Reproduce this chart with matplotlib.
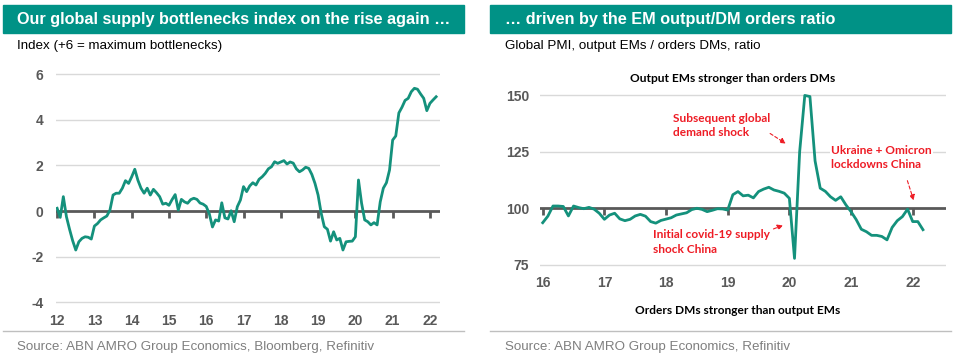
import numpy as np
import matplotlib
matplotlib.use("Agg")
import matplotlib.pyplot as plt
from matplotlib.patches import Rectangle
from matplotlib.lines import Line2D

# left chart: supply bottlenecks index, monthly Jan 2012 - Mar 2022
bottleneck_index = [
    0.12, -0.28, 0.63, -0.25, -0.80, -1.30, -1.71, -1.35, -1.20, -1.13, -1.15, -1.23,
    -0.66, -0.55, -0.39, -0.30, -0.22, 0.04, 0.70, 0.78, 0.78, 1.00, 1.33, 1.21,
    1.50, 1.83, 1.35, 1.00, 0.78, 1.00, 0.70, 0.95, 0.80, 0.63, 0.30, 0.34,
    0.25, 0.50, 0.72, 0.04, 0.51, 0.40, 0.34, 0.50, 0.56, 0.51, 0.35, 0.30,
    0.20, -0.13, -0.70, -0.39, -0.44, 0.36, -0.30, -0.35, 0.01, -0.47, 0.19, 0.48,
    1.07, 0.85, 1.10, 1.24, 1.14, 1.39, 1.50, 1.65, 1.85, 1.94, 2.16, 2.09,
    2.15, 2.21, 2.06, 2.15, 2.10, 1.85, 1.72, 1.80, 1.92, 1.87, 1.60, 1.21,
    0.70, -0.10, -0.69, -0.80, -1.32, -0.91, -1.27, -1.20, -1.71, -1.35, -1.33, -1.32,
    -1.13, 1.36, 0.34, -0.39, -0.47, -0.61, -0.51, -0.61, 0.40, 1.00, 1.24, 1.80,
    3.11, 3.29, 4.30, 4.55, 4.85, 4.94, 5.23, 5.38, 5.34, 5.13, 4.94, 4.40,
    4.72, 4.87, 5.01,
]
left_years = [12, 13, 14, 15, 16, 17, 18, 19, 20, 21, 22]

# right chart: EM output / DM orders ratio, monthly Jan 2016 - Mar 2022
pmi_ratio = [
    93.6, 96.5, 101.0, 101.0, 100.8, 96.6, 101.0, 100.3, 99.8, 100.4, 99.6, 97.8,
    95.1, 97.0, 97.8, 95.3, 94.5, 95.1, 96.6, 97.3, 96.5, 94.1, 93.4, 94.6,
    95.2, 95.8, 97.0, 97.5, 98.0, 99.4, 100.0, 99.5, 98.5, 99.1, 99.8, 99.7,
    99.2, 106.0, 107.4, 105.5, 105.8, 104.6, 107.4, 108.5, 109.3, 108.1, 107.5, 106.7,
    104.4, 77.8, 125.0, 150.0, 149.5, 121.0, 108.9, 107.5, 105.1, 103.5, 105.1, 101.5,
    98.5, 95.0, 90.7, 89.6, 88.0, 88.0, 87.5, 86.0, 91.5, 94.5, 96.3, 99.6,
    94.1, 94.1, 90.5,
]
right_years = [16, 17, 18, 19, 20, 21, 22]

W, H = 959, 363
teal = "#009286"
line_c = "#14917c"
dark = "#595959"
grid_c = "#d9d9d9"
red = "#ee1c25"
font = "Liberation Sans"
narrow = "Lato"

fig = plt.figure(figsize=(W / 100, H / 100), dpi=100)


def px_rect(x0, y0, x1, y1):
    return [x0 / W, 1 - y1 / H, (x1 - x0) / W, (y1 - y0) / H]


# headers, subtitles, sources
for x0, x1, tx, title, sub, src in [
    (3, 464, 17, "Our global supply bottlenecks index on the rise again \u2026",
     "Index (+6 = maximum bottlenecks)",
     "Source: ABN AMRO Group Economics, Bloomberg, Refinitiv"),
    (490, 951, 505, "\u2026 driven by the EM output/DM orders ratio",
     "Global PMI, output EMs / orders DMs, ratio",
     "Source: ABN AMRO Group Economics, Refinitiv"),
]:
    fig.patches.append(Rectangle((x0 / W, 1 - 33 / H), (x1 - x0) / W, 28 / H,
                                 transform=fig.transFigure, color=teal, zorder=0))
    fig.text(tx / W, 1 - 19.5 / H, title, color="white", fontsize=11.7,
             fontweight="bold", family=font, va="center")
    fig.text(tx / W, 1 - 46 / H, sub, color="black", fontsize=9.6,
             family=font, va="center")
    fig.lines.append(Line2D([x0 / W, x1 / W], [1 - 331 / H, 1 - 331 / H],
                            transform=fig.transFigure, color="#bfbfbf", lw=1))
    fig.text(tx / W, 1 - 347 / H, src, color="#7f7f7f", fontsize=9.6,
             family=font, va="center")

# ---- left chart
ax1 = fig.add_axes(px_rect(56, 69.6, 440, 306.8))
x1 = 2012 + np.arange(len(bottleneck_index)) / 12
ax1.set_xlim(2011.97, 2022.27)
ax1.set_ylim(-4.2, 6.2)
for v in [6, 4, 2, -2, -4]:
    ax1.axhline(v, color=grid_c, lw=1, zorder=1)
ax1.axhline(0, color=dark, lw=2, zorder=2)
yrs1 = [2000 + y for y in left_years]
ax1.plot(yrs1, [0] * len(yrs1), ls="none", marker=3, ms=5, mew=2, color=dark, zorder=2)
ax1.plot(x1, bottleneck_index, color=line_c, lw=2, zorder=3)
ax1.set_xticks(yrs1, [str(y) for y in left_years])
ax1.set_yticks([-4, -2, 0, 2, 4, 6], ["-4", "-2", "0", "2", "4", "6"])
ax1.tick_params(axis="x", length=0, pad=5)
ax1.tick_params(axis="y", length=0, pad=9)

# ---- right chart
ax2 = fig.add_axes(px_rect(540, 94.3, 946, 269.2))
x2 = 2016 + np.arange(len(pmi_ratio)) / 12
ax2.set_xlim(2015.956, 2022.54)
ax2.set_ylim(73, 150.5)
for v in [150, 125, 75]:
    ax2.axhline(v, color=grid_c, lw=1, zorder=1)
ax2.axhline(100, color=dark, lw=2, zorder=2)
yrs2 = [2000 + y for y in right_years]
ax2.plot(yrs2, [100] * len(yrs2), ls="none", marker=3, ms=5, mew=2, color=dark, zorder=2)
ax2.plot(x2, pmi_ratio, color=line_c, lw=2, zorder=3)
ax2.set_xticks(yrs2, [str(y) for y in right_years])
ax2.set_yticks([75, 100, 125, 150], ["75", "100", "125", "150"])
ax2.tick_params(axis="x", length=0, pad=5)
ax2.tick_params(axis="y", length=0, pad=8)

for ax in (ax1, ax2):
    for s in ax.spines.values():
        s.set_visible(False)
    ax.patch.set_alpha(0)
    for lab in ax.get_xticklabels() + ax.get_yticklabels():
        lab.set_fontweight("bold")
        lab.set_color(dark)
        lab.set_fontsize(10)
        lab.set_family(font)

# annotations on right chart
box = dict(facecolor="white", edgecolor="none", pad=1)
arrow = dict(arrowstyle="-|>", color=red, lw=0.8, ls=(0, (3, 2)), mutation_scale=8)
ax2.text(2018.11, 136.7, "Subsequent global\ndemand shock", color=red, fontsize=8.6,
         fontweight="bold", family=narrow, va="center", ha="left", bbox=box,
         linespacing=1.4, zorder=4)
ax2.annotate("", xy=(2019.98, 128), xytext=(2019.65, 133.8), arrowprops=arrow, zorder=4)
ax2.text(2020.68, 122.5, "Ukraine + Omicron\nlockdowns China", color=red, fontsize=8.6,
         fontweight="bold", family=narrow, va="center", ha="left", bbox=box,
         linespacing=1.4, zorder=4)
ax2.annotate("", xy=(2022.03, 102.3), xytext=(2021.9, 113.4), arrowprops=arrow, zorder=4)
ax2.text(2017.79, 85.1, "Initial covid-19 supply\nshock China", color=red, fontsize=8.6,
         fontweight="bold", family=narrow, va="center", ha="left",
         linespacing=1.4, zorder=4)
ax2.annotate("", xy=(2019.94, 92.9), xytext=(2019.7, 90.4), arrowprops=arrow, zorder=4)

fig.text(733 / W, 1 - 78 / H, "Output EMs stronger than orders DMs", fontsize=8.6,
         fontweight="bold", family=narrow, ha="center", va="center")
fig.text(737.5 / W, 1 - 310 / H, "Orders DMs stronger than output EMs", fontsize=8.6,
         fontweight="bold", family=narrow, ha="center", va="center")

fig.savefig("out.png", dpi=100)
